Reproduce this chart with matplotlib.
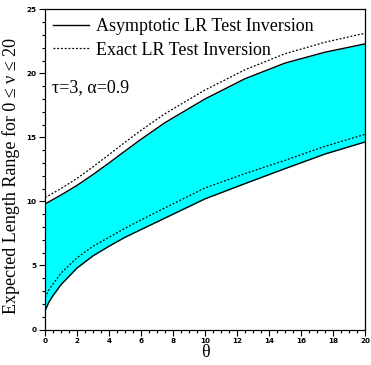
import matplotlib
matplotlib.use("Agg")
import matplotlib.pyplot as plt
from matplotlib.ticker import MultipleLocator

theta = [0, 0.25, 0.5, 1, 2, 3, 4, 5, 6, 7.5, 10, 12.5, 15, 17.5, 20]
upper_asym = [9.8, 9.97, 10.15, 10.5, 11.25, 12.1, 13.0, 13.93, 14.85, 16.15, 18.0, 19.58, 20.8, 21.65, 22.3]
upper_exact = [10.3, 10.47, 10.65, 11.0, 11.8, 12.7, 13.65, 14.62, 15.55, 16.85, 18.7, 20.28, 21.53, 22.43, 23.13]
lower_asym = [1.45, 2.15, 2.65, 3.5, 4.8, 5.75, 6.5, 7.2, 7.8, 8.7, 10.2, 11.39, 12.56, 13.7, 14.64]
lower_exact = [2.5, 3.1, 3.55, 4.4, 5.6, 6.5, 7.2, 7.9, 8.55, 9.5, 11.05, 12.17, 13.21, 14.3, 15.24]

serif = "Liberation Serif"
fig = plt.figure(figsize=(3.71, 3.65), dpi=100)
ax = fig.add_axes([45/371, 35.5/365, 320/371, 320.2/365])

ax.fill_between(theta, lower_asym, upper_asym, color="#00FFFF", lw=0)
ax.plot(theta, upper_asym, color="black", lw=1.0, label="Asymptotic LR Test Inversion")
ax.plot(theta, lower_asym, color="black", lw=1.0)
ax.plot(theta, upper_exact, color="black", lw=0.9, ls=(0, (1.5, 1.5)), label="Exact LR Test Inversion")
ax.plot(theta, lower_exact, color="black", lw=0.9, ls=(0, (1.5, 1.5)))

ax.set_xlim(0, 20)
ax.set_ylim(0, 25)
ax.xaxis.set_major_locator(MultipleLocator(2))
ax.xaxis.set_minor_locator(MultipleLocator(0.5))
ax.yaxis.set_major_locator(MultipleLocator(5))
ax.yaxis.set_minor_locator(MultipleLocator(1))
ax.tick_params(which="both", direction="out", top=False, right=False, width=0.8)
ax.tick_params(which="major", length=4, pad=2)
ax.tick_params(which="minor", length=2.5)
for lab in ax.get_xticklabels() + ax.get_yticklabels():
    lab.set_fontfamily("DejaVu Sans")
    lab.set_fontweight("bold")
    lab.set_fontsize(5.2)
for s in ax.spines.values():
    s.set_linewidth(0.9)

ax.set_xlabel("θ", family=serif, fontsize=13, labelpad=0)
ax.set_ylabel("Expected Length Range for 0 ≤ ν ≤ 20", family=serif, fontsize=13, labelpad=5)
ax.yaxis.label.set_y(0.479)

leg = ax.legend(loc="upper left", bbox_to_anchor=(-0.015, 1.012), frameon=False,
                prop={"family": serif, "size": 13}, handlelength=2.0,
                handletextpad=0.4, labelspacing=0.36, borderaxespad=0.3)
ax.text(0.022, 0.755, "τ=3, α=0.9", transform=ax.transAxes, family=serif, fontsize=13,
        va="center", ha="left")

fig.savefig("out.png", dpi=100)
